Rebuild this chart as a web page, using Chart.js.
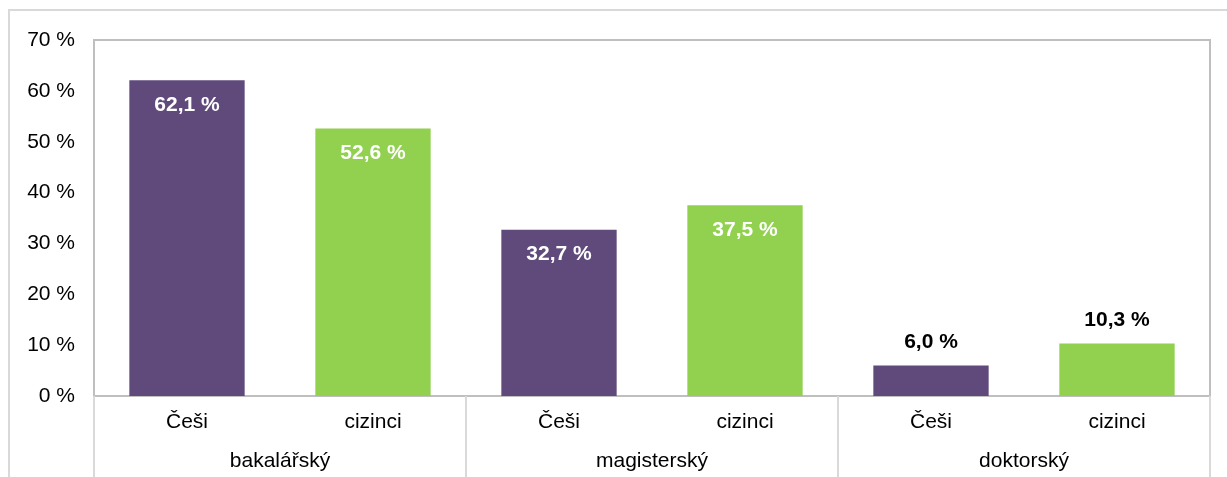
<!DOCTYPE html>
<html>
<head>
<meta charset="utf-8">
<script src="https://cdn.jsdelivr.net/npm/chart.js@4"></script>
<style>
  html, body { margin: 0; padding: 0; background: #ffffff; }
  #wrap { width: 1227px; height: 477px; position: relative; }
</style>
</head>
<body>
<div id="wrap"><canvas id="chart"></canvas></div>
<script>
// ---- data ----
const skupiny = ['bakalářský', 'magisterský', 'doktorský'];
const kategorie = ['Češi', 'cizinci', 'Češi', 'cizinci', 'Češi', 'cizinci'];
const hodnoty = [62.1, 52.6, 32.7, 37.5, 6.0, 10.3];
const barvy = ['#604a7b', '#92d050', '#604a7b', '#92d050', '#604a7b', '#92d050'];
const yTicks = [0, 10, 20, 30, 40, 50, 60, 70];

const FONT = 'Arial, "Liberation Sans", sans-serif';
const lineGrey = '#bfbfbf';
const frameGrey = '#d9d9d9';

// frame, group separators, group labels, value labels
const extras = {
    id: 'extras',
    beforeDraw(chart) {
        const ctx = chart.ctx;
        ctx.save();
        ctx.strokeStyle = frameGrey;
        ctx.lineWidth = 2;
        ctx.beginPath();
        ctx.moveTo(9, chart.height);
        ctx.lineTo(9, 10);
        ctx.lineTo(chart.width, 10);
        ctx.stroke();
        ctx.restore();
    },
    afterDraw(chart) {
        const ctx = chart.ctx;
        const a = chart.chartArea;
        const x = chart.scales.x;
        ctx.save();

        // plot border top + right
        ctx.strokeStyle = lineGrey;
        ctx.lineWidth = 2;
        ctx.beginPath();
        ctx.moveTo(a.left, a.top);
        ctx.lineTo(a.right, a.top);
        ctx.lineTo(a.right, a.bottom);
        ctx.stroke();

        // group separators below the axis
        const perGroup = kategorie.length / skupiny.length;
        const step = (a.right - a.left) / kategorie.length;
        ctx.strokeStyle = frameGrey;
        for (let g = 0; g <= skupiny.length; g++) {
            const px = Math.round(a.left + g * perGroup * step);
            ctx.beginPath();
            ctx.moveTo(px, a.bottom);
            ctx.lineTo(px, chart.height);
            ctx.stroke();
        }

        // group labels
        ctx.fillStyle = '#000000';
        ctx.font = '21px ' + FONT;
        ctx.textAlign = 'center';
        ctx.textBaseline = 'middle';
        skupiny.forEach((s, g) => {
            const x0 = x.getPixelForValue(g * perGroup);
            const x1 = x.getPixelForValue(g * perGroup + perGroup - 1);
            ctx.fillText(s, (x0 + x1) / 2, a.bottom + 65);
        });

        // value labels
        ctx.font = 'bold 21px ' + FONT;
        const meta = chart.getDatasetMeta(0);
        meta.data.forEach((bar, i) => {
            const v = hodnoty[i];
            const txt = v.toFixed(1).replace('.', ',') + ' %';
            if (v > 20) {
                ctx.fillStyle = '#ffffff';
                ctx.fillText(txt, bar.x, bar.y + 25);
            } else {
                ctx.fillStyle = '#000000';
                ctx.fillText(txt, bar.x, bar.y - 23);
            }
        });
        ctx.restore();
    }
};

new Chart(document.getElementById('chart'), {
    type: 'bar',
    data: {
        labels: kategorie,
        datasets: [{
            data: hodnoty,
            backgroundColor: barvy,
            borderWidth: 0,
            barPercentage: 0.62,
            categoryPercentage: 1.0
        }]
    },
    options: {
        responsive: true,
        maintainAspectRatio: false,
        animation: false,
        layout: { padding: { left: 10, top: 40, right: 17, bottom: 0 } },
        plugins: {
            legend: { display: false },
            tooltip: { enabled: false }
        },
        scales: {
            x: {
                grid: { display: false },
                border: { display: true, color: lineGrey, width: 2 },
                ticks: {
                    color: '#000000',
                    font: { family: FONT, size: 21 },
                    padding: 6,
                    maxRotation: 0,
                    autoSkip: false
                },
                afterFit(s) { s.height = 81; }
            },
            y: {
                min: 0,
                max: 70,
                grid: { display: false },
                border: { display: true, color: lineGrey, width: 2 },
                afterBuildTicks(s) { s.ticks = yTicks.map(v => ({ value: v })); },
                ticks: {
                    color: '#000000',
                    font: { family: FONT, size: 21 },
                    padding: 11,
                    callback: v => v + ' %'
                },
                afterFit(s) { s.width = 84; }
            }
        }
    },
    plugins: [extras]
});
</script>
</body>
</html>
